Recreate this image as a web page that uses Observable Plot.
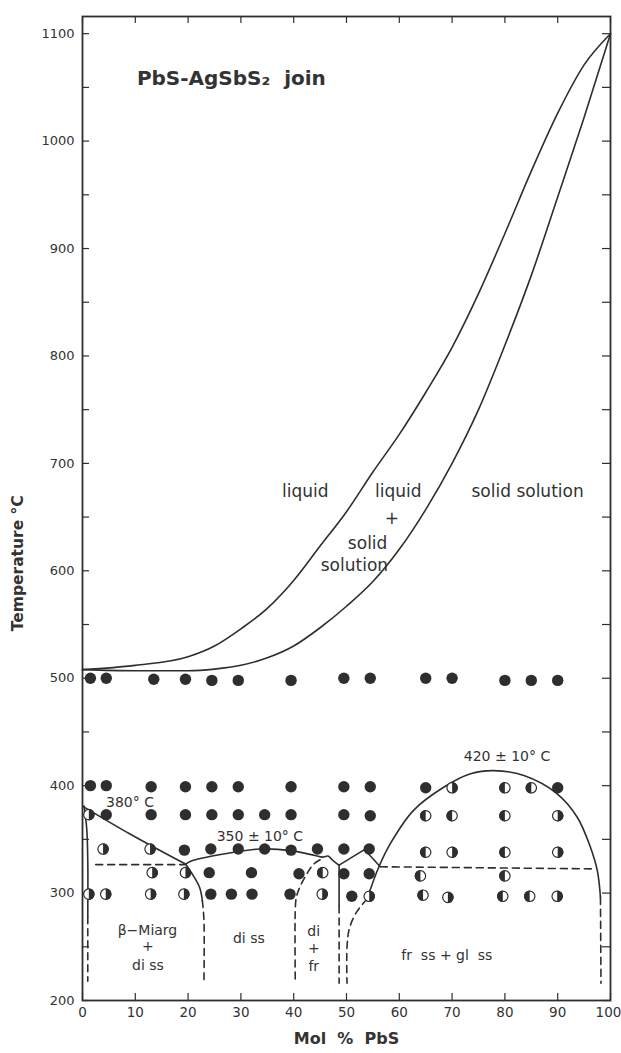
<!DOCTYPE html>
<html><head><meta charset="utf-8">
<script src="https://cdn.jsdelivr.net/npm/d3@7"></script>
<script src="https://cdn.jsdelivr.net/npm/@observablehq/plot@0.6"></script>
<style>
body{margin:0;background:#fff;}
#chart svg{display:block;}
#chart svg text{white-space:pre;}
</style></head><body><div id="chart"></div>
<script>
// ---- data (mol % PbS, temperature °C) ----
const xTicks = [0,10,20,30,40,50,60,70,80,90,100];
const yTickLabels = [200,300,400,500,600,700,800,900,1000,1100];
const yTickMarks = d3.range(200, 1101, 50);

const liquidus = [[0,508],[10,512],[20,520],[25,530],[30,546],[35,565],[40,591],[45,623],[50,655],[55,692],[60,727],[65,766],[70,808],[75,858],[80,914],[85,972],[90,1026],[95,1071],[100,1100]];
const solidus = [[0,508],[10,507],[20,507],[25,508.5],[30,512],[35,519],[40,530],[45,547],[50,567],[55,590],[60,620],[65,657],[70,700],[75,750],[80,810],[85,875],[90,948],[95,1022],[100,1100]];

const solidLeftEdge = [[0.3,381],[0.8,360],[1.0,330],[1.0,278]];
const dashedLeftEdge = [[1.0,278],[1.0,218]];
const line380 = [[0,381],[9,355],[19.5,327]];
const miargBoundary = [[19.5,327],[21,316],[22.2,305],[22.7,293]];
const miargDashed = [[22.7,293],[23,275],[23,216]];
const line350 = [[19.5,327],[21,330.5],[27.5,337],[33.5,341],[39.5,339.5],[44,335],[45.5,333.5],[46.5,334.5],[47.3,331],[48.6,326]];
const diFrDashed = [[45,331],[43.8,327],[42.5,318],[41.2,306],[40.5,296],[40.3,285],[40.3,216]];
const solid49 = [[48.6,326],[48.6,288]];
const dashed49 = [[48.6,288],[48.6,216]];
const peak53 = [[48.6,326],[53.4,340.5],[56.4,324.5]];
const dashedLeft327 = [[2.5,326.5],[19.5,326.5]];
const dashedRight323 = [[56.4,324.5],[97.3,322.5]];
const dome420 = [[53.9,294.5],[56.1,324],[58.3,346],[62.7,377],[68.4,398.5],[73.5,411],[77.9,414],[83.6,409.4],[89.9,392.4],[93.7,370.6],[96.2,342.7],[97.5,321],[98.1,296]];
const domeRightDashed = [[98.1,296],[98.2,216]];
const domeLeftDashed = [[53.9,294.5],[52,283],[50.6,268],[50.1,250],[50.1,216]];

const filledPts = [
 [1.5,500],[4.5,500],[13.5,499],[19.5,499],[24.5,498],[29.5,498],[39.5,498],[49.5,500],[54.5,500],[65,500],[70,500],[80,498],[85,498],[90,498],
 [1.5,400],[4.5,400],[13,399],[19.5,399],[24.5,399],[29.5,399],[39.5,399],[49.5,399],[54.5,399],[65,398],[90,398],
 [4.5,373],[13,373],[19.5,373],[24.5,373],[29.5,373],[34.5,373],[39.5,373],[49.5,373],[54.5,372],
 [19.3,340],[24.3,341],[29.5,341],[34.5,341],[39.5,340],[44.5,341],[49.5,341],[54.3,341],
 [24,319],[32,319],[41,318],[49.5,318],[54.3,318],
 [24.3,299],[28.2,299],[32.1,299],[39.3,299],[51,297]
];
const halfLeftPts = [
 [45.5,319],[80,398],[85,398],[65,372],[70,372],[80,372],[65,338],[80,338],[64,316],[80,316],[64.5,298],[79.6,297],[84.7,297]
];
const halfRightPts = [
 [1.2,373],[1.2,299],[4.4,299],[3.9,341],[12.8,341],[13.2,319],[19.5,319],[12.9,299],[19.2,299],[45.4,299],[54.3,297],
 [70,398],[90,372],[70,338],[90,338],[69.2,296],[89.9,297]
];

const titleText = ["PbS-AgSbS₂  join"];
const titlePos = [[10.3,1058]];
const fieldLabels = [["liquid",42.2,674],["liquid",59.8,674],["+",58.6,649],["solid",54,625],["solution",51.5,605],["solid solution",84.3,674]];
const tempLabels = [["380° C",9,384],["350 ± 10° C",33.6,353],["420 ± 10° C",80.4,427]];
const phaseLabels = [["β−Miarg",12.3,265],["+",12.4,250],["di ss",12.4,233],["di ss",31.5,258],["di",43.8,264],["+",43.8,248],["fr",43.8,232],["fr  ss + gl  ss",69,242]];
const yLabelPos = [607];

// ---- symbols ----
const halfLeft = {draw(ctx, size){const r=Math.sqrt(size/Math.PI); ctx.moveTo(0,-r); ctx.arc(0,0,r,-Math.PI/2,Math.PI/2,true); ctx.closePath();}};
const halfRight = {draw(ctx, size){const r=Math.sqrt(size/Math.PI); ctx.moveTo(0,-r); ctx.arc(0,0,r,-Math.PI/2,Math.PI/2,false); ctx.closePath();}};

const W = 621, H = 1053, mL = 82, mR = 11, mT = 16, mB = 53;
const pw = W - mL - mR, ph = H - mT - mB;
const ink = "#2e2e2e";
const lineOpts = {x: d => d[0], y: d => d[1], stroke: ink, strokeWidth: 1.6};
const dashOpts = {...lineOpts, strokeDasharray: "7,5"};
const curveOpts = {...lineOpts, curve: "catmull-rom"};
const smoothOpts = {...lineOpts, curve: "monotone-x"};
const font = "'DejaVu Sans', 'Liberation Sans', Arial, sans-serif";

const chart = Plot.plot({
  width: W, height: H,
  marginLeft: mL, marginRight: mR, marginTop: mT, marginBottom: mB,
  x: {domain: [0, 100]},
  y: {domain: [200, 1116]},
  style: {fontFamily: font, background: "#fff", color: "#333"},
  marks: [
    Plot.axisX({ticks: xTicks.slice(0, -1), tickFormat: d => String(d), tickSize: 0, tickPadding: 7, fontSize: 13.5, label: null}),
    Plot.axisX({ticks: xTicks.slice(-1), tickFormat: d => String(d), tickSize: 0, tickPadding: 7, fontSize: 13.5, dx: -2, textAnchor: "middle", label: null}),
    Plot.axisY({ticks: yTickLabels, tickFormat: d => String(d), tickSize: 0, tickPadding: 8, fontSize: 13, label: null}),
    Plot.ruleX(xTicks, {x: d => d, insetTop: ph - 7, stroke: ink, strokeWidth: 1.2}),
    Plot.ruleX(xTicks, {x: d => d, insetBottom: ph - 7, stroke: ink, strokeWidth: 1.2}),
    Plot.ruleY(yTickMarks, {y: d => d, insetRight: pw - 7, stroke: ink, strokeWidth: 1.2}),
    Plot.ruleY(yTickMarks, {y: d => d, insetLeft: pw - 8, stroke: ink, strokeWidth: 1.2}),
    Plot.frame({stroke: ink, strokeWidth: 1.8}),
    // phase boundaries
    Plot.line(liquidus, smoothOpts),
    Plot.line(solidus, smoothOpts),
    Plot.line(solidLeftEdge, curveOpts),
    Plot.line(dashedLeftEdge, dashOpts),
    Plot.line(line380, curveOpts),
    Plot.line(miargBoundary, curveOpts),
    Plot.line(miargDashed, {...dashOpts, curve: "catmull-rom"}),
    Plot.line(line350, curveOpts),
    Plot.line(diFrDashed, {...dashOpts, curve: "catmull-rom"}),
    Plot.line(solid49, lineOpts),
    Plot.line(dashed49, dashOpts),
    Plot.line(peak53, lineOpts),
    Plot.line(dashedLeft327, dashOpts),
    Plot.line(dashedRight323, dashOpts),
    Plot.line(dome420, curveOpts),
    Plot.line(domeRightDashed, dashOpts),
    Plot.line(domeLeftDashed, {...dashOpts, curve: "catmull-rom"}),
    // experimental points
    Plot.dot(filledPts, {x: d => d[0], y: d => d[1], r: 5.7, fill: ink}),
    Plot.dot(halfLeftPts.concat(halfRightPts), {x: d => d[0], y: d => d[1], r: 5.2, fill: "#fff", stroke: ink, strokeWidth: 1.2}),
    Plot.dot(halfLeftPts, {x: d => d[0], y: d => d[1], r: 5.7, fill: ink, symbol: halfLeft}),
    Plot.dot(halfRightPts, {x: d => d[0], y: d => d[1], r: 5.7, fill: ink, symbol: halfRight}),
    // texts
    Plot.text(titleText, {x: (d, i) => titlePos[i][0], y: (d, i) => titlePos[i][1], text: d => d, textAnchor: "start", fontSize: 20, fontWeight: "bold", fill: "#333"}),
    Plot.text(fieldLabels, {x: d => d[1], y: d => d[2], text: d => d[0], fontSize: 17, fill: "#333"}),
    Plot.text(tempLabels, {x: d => d[1], y: d => d[2], text: d => d[0], fontSize: 14, fill: "#333"}),
    Plot.text(phaseLabels, {x: d => d[1], y: d => d[2], text: d => d[0], fontSize: 14, fill: "#333"}),
    Plot.text(["Temperature °C"], {frameAnchor: "left", y: (d, i) => yLabelPos[i], dx: -64, rotate: -90, textAnchor: "middle", fontSize: 15.5, fontWeight: "bold", fill: "#333"}),
    Plot.text(["Mol  %  PbS"], {frameAnchor: "bottom", dy: 43, fontSize: 16, fontWeight: "bold", fill: "#333"})
  ]
});
document.getElementById("chart").appendChild(chart);
</script>
</body></html>
